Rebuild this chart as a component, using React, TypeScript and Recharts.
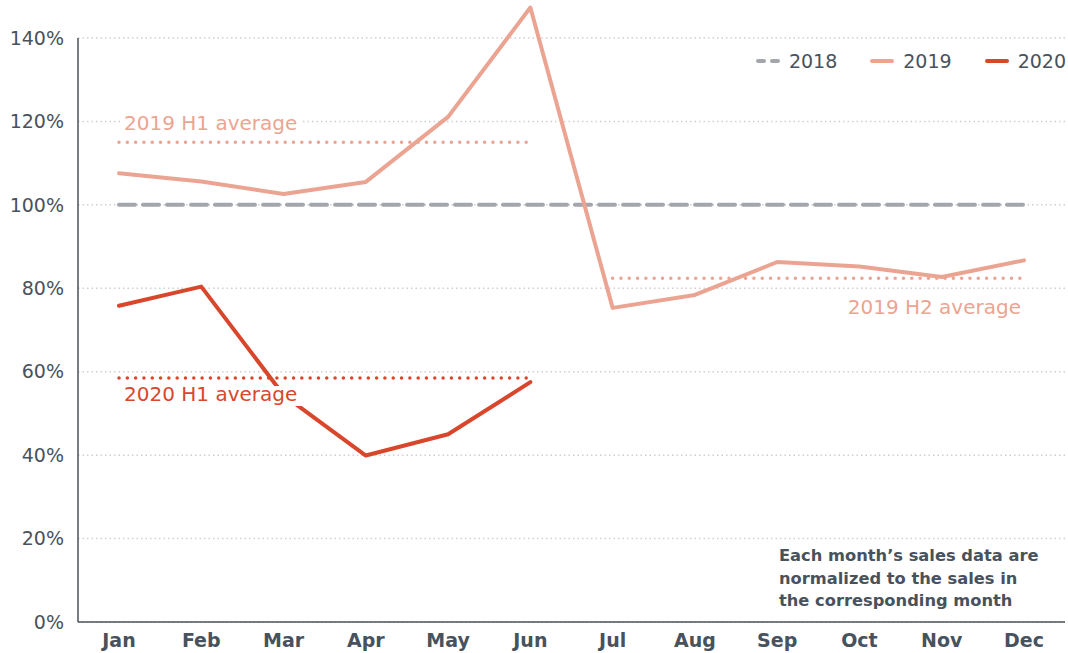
import { LineChart, Line, XAxis, YAxis, CartesianGrid, ReferenceDot } from "recharts";

const months = ["Jan", "Feb", "Mar", "Apr", "May", "Jun", "Jul", "Aug", "Sep", "Oct", "Nov", "Dec"];
const sales2018 = [100, 100, 100, 100, 100, 100, 100, 100, 100, 100, 100, 100];
const sales2019 = [107.6, 105.6, 102.6, 105.5, 121.1, 147.3, 75.3, 78.4, 86.3, 85.2, 82.7, 86.7];
const sales2020 = [75.8, 80.4, 54.4, 39.9, 45.0, 57.5, null, null, null, null, null, null];
const avg2019H1 = [115, 115, 115, 115, 115, 115, null, null, null, null, null, null];
const avg2019H2 = [null, null, null, null, null, null, 82.4, 82.4, 82.4, 82.4, 82.4, 82.4];
const avg2020H1 = [58.5, 58.5, 58.5, 58.5, 58.5, 58.5, null, null, null, null, null, null];
const yTicks = [0, 20, 40, 60, 80, 100, 120, 140];

const FONT = '"DejaVu Sans", sans-serif';
const INK = "#48525c";
const C2018 = "#a3a7ab";
const C2019 = "#eca492";
const C2020 = "#d8472b";

const series = [
  { key: "y2018", name: "2018", color: C2018, dash: "16 8" },
  { key: "y2019", name: "2019", color: C2019, dash: undefined },
  { key: "y2020", name: "2020", color: C2020, dash: undefined },
];

const data = months.map((m, i) => ({
  month: m,
  y2018: sales2018[i],
  y2019: sales2019[i],
  y2020: sales2020[i],
  h1019: avg2019H1[i],
  h2019: avg2019H2[i],
  h1020: avg2020H1[i],
}));

// text placed next to the averaged dotted lines, on a white box
const avgLabel = (text: string, color: string, dx: number, dy: number, anchor: "start" | "end") =>
  (props: any) => {
    const vb = props.viewBox || {};
    const x = vb.x + dx;
    const y = vb.y + dy;
    const w = 182;
    return (
      <g>
        <rect x={anchor === "start" ? x - 3 : x - w + 3} y={y - 15} width={w} height={20} fill="#fff" />
        <text x={x} y={y} textAnchor={anchor} fill={color} fontFamily={FONT} fontSize={20}>
          {text}
        </text>
      </g>
    );
  };

export default function App() {
  return (
    <div style={{ position: "relative", width: 1068, height: 653, background: "#fff" }}>
      <style>{`body { margin: 0; overflow: hidden; } .recharts-line, .recharts-line * { clip-path: none !important; }`}</style>
      <LineChart width={1068} height={653} data={data} margin={{ top: 38, right: 3, left: 0, bottom: 0 }}>
        <CartesianGrid vertical={false} stroke="#cfcfcf" strokeWidth={1.5} strokeDasharray="1.5 3" />
        <XAxis
          dataKey="month"
          height={31}
          padding={{ left: 41, right: 41 }}
          axisLine={{ stroke: INK, strokeWidth: 1.5 }}
          tickLine={false}
          tickSize={0}
          tickMargin={12}
          tick={{ fill: INK, fontFamily: FONT, fontSize: 19, fontWeight: 600 }}
        />
        <YAxis
          width={78}
          domain={[0, 140]}
          ticks={yTicks}
          allowDataOverflow
          tickFormatter={(v) => `${v}%`}
          axisLine={{ stroke: INK, strokeWidth: 1.5 }}
          tickLine={false}
          tickSize={0}
          tickMargin={14}
          tick={{ fill: INK, fontFamily: FONT, fontSize: 19 }}
        />
        <Line dataKey="h1019" stroke={C2019} strokeWidth={3.5} strokeDasharray="0.01 8.3" strokeLinecap="round" dot={false} activeDot={false} legendType="none" isAnimationActive={false} />
        <Line dataKey="h2019" stroke={C2019} strokeWidth={3.5} strokeDasharray="0.01 8.3" strokeLinecap="round" dot={false} activeDot={false} legendType="none" isAnimationActive={false} />
        <Line dataKey="h1020" stroke={C2020} strokeWidth={3.5} strokeDasharray="0.01 8.3" strokeLinecap="round" dot={false} activeDot={false} legendType="none" isAnimationActive={false} />
        {series.map((s) => (
          <Line
            key={s.key}
            dataKey={s.key}
            name={s.name}
            type="linear"
            stroke={s.color}
            strokeWidth={4}
            strokeDasharray={s.dash}
            strokeLinecap="round"
            strokeLinejoin="round"
            dot={false}
            activeDot={false}
            isAnimationActive={false}
          />
        ))}
        <ReferenceDot x="Jan" y={avg2019H1[0] as number} r={0} fill="none" stroke="none" label={avgLabel("2019 H1 average", C2019, 5, -12, "start")} />
        <ReferenceDot x="Jan" y={avg2020H1[0] as number} r={0} fill="none" stroke="none" label={avgLabel("2020 H1 average", C2020, 5, 23, "start")} />
        <ReferenceDot x="Dec" y={avg2019H2[11] as number} r={0} fill="none" stroke="none" label={avgLabel("2019 H2 average", C2019, -3, 36, "end")} />
      </LineChart>

      <div style={{ position: "absolute", top: 50, right: 2, display: "flex", fontFamily: FONT, fontSize: 19, color: INK }}>
        {series.map((s) => (
          <div key={s.key} style={{ display: "flex", alignItems: "center", marginLeft: 32 }}>
            <svg width={26} height={6}>
              <line x1={3} y1={3} x2={23} y2={3} stroke={s.color} strokeWidth={4} strokeLinecap="round" strokeDasharray={s.dash ? "6 8" : undefined} />
            </svg>
            <span style={{ marginLeft: 8 }}>{s.name}</span>
          </div>
        ))}
      </div>

      <div style={{ position: "absolute", left: 779, top: 545, fontFamily: FONT, fontSize: 16.3, fontWeight: 700, lineHeight: "22.5px", color: INK }}>
        Each month’s sales data are
        <br />
        normalized to the sales in
        <br />
        the corresponding month
      </div>
    </div>
  );
}
